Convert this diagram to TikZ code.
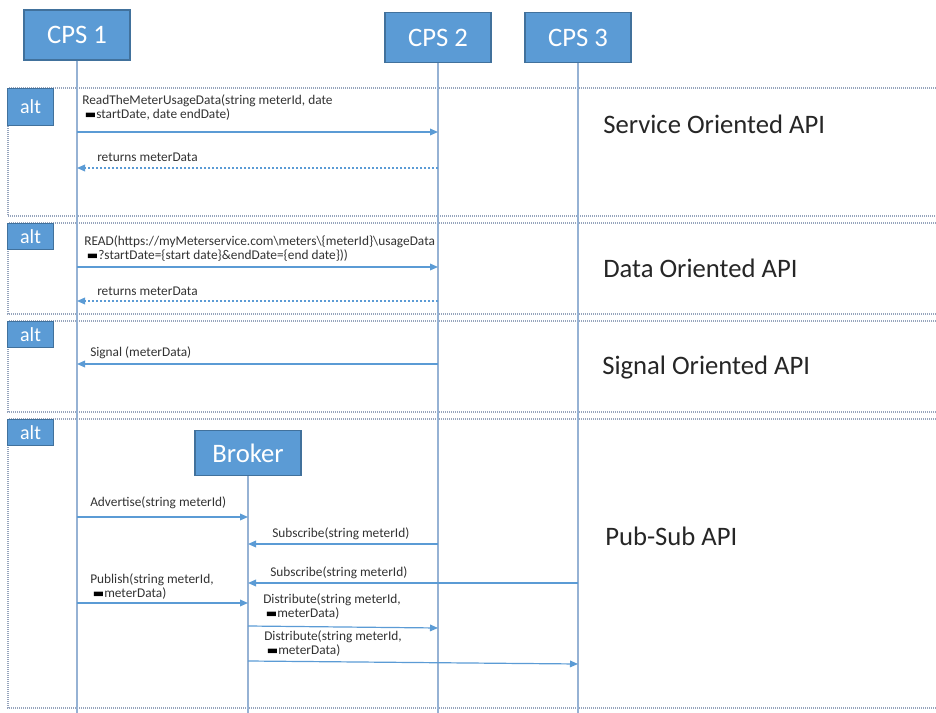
\documentclass[tikz,border=0pt]{standalone}
\usepackage{fontspec}
\setmainfont{Carlito}
\newfontfamily\symfont{DejaVu Sans}
\usepackage{tikz}
\usetikzlibrary{arrows.meta, positioning}
\usepackage{xcolor}

\definecolor{boxfill}{RGB}{91,155,213}
\definecolor{boxedge}{RGB}{65,113,156}
\definecolor{lifeblue}{RGB}{150,178,212}
\definecolor{msgblue}{RGB}{91,155,213}
\definecolor{framegray}{RGB}{150,164,188}
\definecolor{labelgray}{RGB}{50,50,50}

\newcommand{\wrapmark}{\hspace*{2pt}{\symfont\fontsize{9}{10}\selectfont\textcolor{black}{▬}}}

\begin{document}
\begin{tikzpicture}[
    x=0.75pt, y=-0.75pt,
    entity/.style = {rectangle, draw=boxedge, fill=boxfill, line width=1.1pt, text=white, font=\fontsize{20}{24}\selectfont, minimum width=79.5pt, minimum height=37.5pt},
    alttab/.style = {rectangle, draw=boxedge, fill=boxfill, line width=0.8pt, text=white, font=\fontsize{15}{18}\selectfont, anchor=north west, minimum width=34.5pt, minimum height=19.5pt, inner sep=0pt},
    lifeline/.style = {draw=lifeblue, line width=1pt},
    frame/.style = {draw=framegray, line width=0.8pt, dash pattern=on 0.75pt off 0.75pt},
    msg/.style = {draw=msgblue, line width=0.9pt, -{Triangle[length=6pt, width=5pt]}},
    reply/.style = {msg, dash pattern=on 1.5pt off 1.5pt},
    lbl/.style = {anchor=south west, inner sep=0pt, align=left, text=labelgray, font=\fontsize{10}{10.5}\selectfont},
    api/.style = {anchor=base west, inner sep=0pt, text=black!85, font=\fontsize{20}{24}\selectfont}
]
\useasboundingbox (0,0) rectangle (936,713);

% Frames
\draw [frame] (936,88) -- (8,88) -- (8,216) -- (936,216);
\draw [frame] (936,223) -- (8,223) -- (8,314) -- (936,314);
\draw [frame] (936,321) -- (8,321) -- (8,412) -- (936,412);
\draw [frame] (936,419) -- (8,419) -- (8,708) -- (936,708);

\node (alt1) [alttab, minimum height=27.75pt] at (7,88) {alt};
\node (alt2) [alttab] at (7,223) {alt};
\node (alt3) [alttab] at (7,321) {alt};
\node (alt4) [alttab] at (7,419) {alt};

% Entities
\node (cps1) [entity] at (77,35) {CPS 1};
\node (cps2) [entity] at (438,37.5) {CPS 2};
\node (cps3) [entity] at (578,37.5) {CPS 3};
\node (broker) [entity, minimum height=33.75pt] at (248,453) {Broker};

% Lifelines
\draw [lifeline] (cps1) -- (cps1 |- 0,713);
\draw [lifeline] (cps2) -- (cps2 |- 0,713);
\draw [lifeline] (cps3) -- (cps3 |- 0,713);
\draw [lifeline] (broker) -- (broker |- 0,713);

% Messages
\draw [msg] (cps1 |- 0,132) -- (cps2 |- 0,132);
\node (m1) [lbl] at (82,121) {ReadTheMeterUsageData(string meterId, date\\\wrapmark startDate, date endDate)};
\draw [reply] (cps2 |- 0,168) -- (cps1 |- 0,168);
\node (m2) [lbl] at (97,162) {returns meterData};

\draw [msg] (cps1 |- 0,267) -- (cps2 |- 0,267);
\node (m3) [lbl] at (84,262) {READ(https://myMeterservice.com\textbackslash meters\textbackslash\{meterId\}\textbackslash usageData\\\wrapmark ?startDate=\{start date\}\&endDate=\{end date\}))};
\draw [reply] (cps2 |- 0,301) -- (cps1 |- 0,301);
\node (m4) [lbl] at (97,296) {returns meterData};

\draw [msg] (cps2 |- 0,364) -- (cps1 |- 0,364);
\node (m5) [lbl] at (90,359) {Signal (meterData)};

\draw [msg] (cps1 |- 0,517) -- (broker |- 0,517);
\node (m6) [lbl] at (90,509) {Advertise(string meterId)};
\draw [msg] (cps2 |- 0,544) -- (broker |- 0,544);
\node (m7) [lbl] at (272,540) {Subscribe(string meterId)};
\draw [msg] (cps3 |- 0,583) -- (broker |- 0,583);
\node (m8) [lbl] at (270,579) {Subscribe(string meterId)};
\draw [msg] (cps1 |- 0,603) -- (broker |- 0,603);
\node (m9) [lbl] at (90,600) {Publish(string meterId,\\\wrapmark meterData)};
\draw [msg] (broker |- 0,626) -- (cps2 |- 0,628);
\node (m10) [lbl] at (263,620) {Distribute(string meterId,\\\wrapmark meterData)};
\draw [msg] (broker |- 0,661) -- (cps3 |- 0,664);
\node (m11) [lbl] at (264,657) {Distribute(string meterId,\\\wrapmark meterData)};

% API kinds
\node (soa) [api] at (603,134) {Service Oriented API};
\node (doa) [api] at (603,277) {Data Oriented API};
\node (sigoa) [api] at (602,374) {Signal Oriented API};
\node (pubsub) [api] at (605,545) {Pub-Sub API};

\end{tikzpicture}
\end{document}
